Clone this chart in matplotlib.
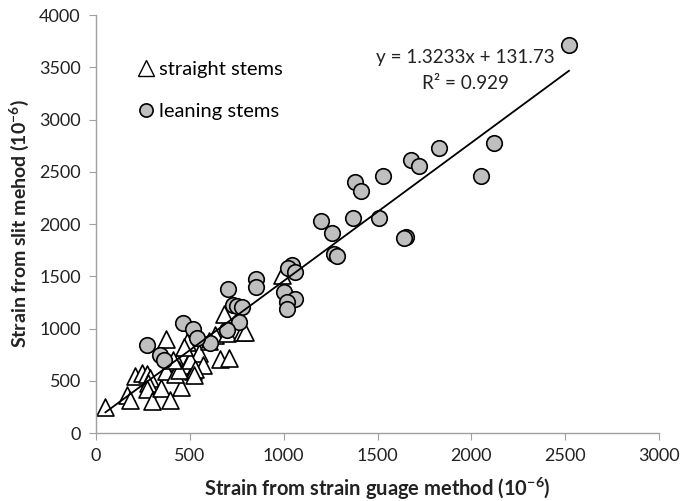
import matplotlib
matplotlib.use("Agg")
import matplotlib.pyplot as plt
from matplotlib.lines import Line2D

plt.rcParams['font.family'] = ['Lato', 'DejaVu Sans']
plt.rcParams['mathtext.fontset'] = 'custom'
plt.rcParams['mathtext.rm'] = 'Lato'
plt.rcParams['mathtext.bf'] = 'Lato:bold'

# Straight stems: (strain gauge, slit method), units of 1e-6
straight_x = [50, 165, 180, 205, 245, 270, 285, 275, 270, 300, 345, 395, 375, 455,
              485, 430, 375, 485, 515, 550, 570, 500, 530, 420, 440, 410, 660, 710,
              680, 635, 700, 780, 795, 990, 600, 520, 470]
straight_y = [245, 365, 315, 545, 575, 565, 530, 480, 425, 310, 430, 320, 900, 440,
              870, 680, 590, 650, 595, 770, 655, 700, 610, 560, 600, 700, 710, 720,
              1135, 935, 960, 970, 965, 1515, 880, 555, 820]

# Leaning stems
leaning_x = [2520, 2120, 2050, 1830, 1680, 1720, 1530, 1380, 1410, 1200, 1370, 1510,
             1260, 1650, 1640, 1270, 1285, 1045, 1025, 1060, 1000, 1060, 1020, 1015,
             855, 850, 705, 730, 750, 780, 760, 700, 605, 465, 515, 540, 270, 340, 360]
leaning_y = [3715, 2775, 2460, 2730, 2615, 2560, 2460, 2400, 2320, 2030, 2060, 2055,
             1910, 1880, 1865, 1715, 1690, 1605, 1580, 1540, 1345, 1285, 1250, 1190,
             1470, 1395, 1375, 1225, 1215, 1210, 1060, 985, 860, 1050, 1000, 910,
             840, 750, 700]

# Linear trend fitted to all stems
slope = 1.3233
intercept = 131.73
r_squared = 0.929

x_ticks = [0, 500, 1000, 1500, 2000, 2500, 3000]
y_ticks = [0, 500, 1000, 1500, 2000, 2500, 3000, 3500, 4000]

fig = plt.figure(figsize=(6.84, 5.01), dpi=100)
ax = fig.add_axes([0.1404, 0.1357, 0.8231, 0.8343])

ax.scatter(straight_x, straight_y, marker='^', s=150, facecolor='white',
           edgecolor='black', linewidth=1.2, zorder=2)
ax.scatter(leaning_x, leaning_y, marker='o', s=125, facecolor='#bfbfbf',
           edgecolor='black', linewidth=1.2, zorder=3)

all_x = straight_x + leaning_x
x0, x1 = min(all_x), max(all_x)
ax.plot([x0, x1], [slope * x0 + intercept, slope * x1 + intercept],
        color='black', linewidth=1.3, zorder=4)

ax.text(1970, 3598, f"y = {slope:.4f}x + {intercept:.2f}", ha='center', va='center',
        fontsize=13.6, color='#222222')
ax.text(1970, 3340, f"R² = {r_squared:.3f}", ha='center',
        va='center', fontsize=13.6, color='#222222')

ax.set_xlim(0, 3000)
ax.set_ylim(0, 4000)
ax.set_xticks(x_ticks)
ax.set_yticks(y_ticks)
ax.tick_params(axis='both', direction='out', length=5, color='#a0a0a0',
               labelsize=13, labelcolor='#222222', pad=6)

for side in ('top', 'right'):
    ax.spines[side].set_visible(False)
for side in ('left', 'bottom'):
    ax.spines[side].set_color('#a0a0a0')
    ax.spines[side].set_linewidth(1.0)

ax.set_xlabel('Strain from strain guage method (10$^{\\mathbf{-6}}$)', fontsize=14.5,
              fontweight='bold', labelpad=8, color='#222222')
ax.set_ylabel('Strain from slit mehod (10$^{\\mathbf{-6}}$)', fontsize=14,
              fontweight='bold', labelpad=6, color='#222222')

handles = [
    Line2D([], [], marker='^', linestyle='none', markersize=12,
           markerfacecolor='white', markeredgecolor='black', markeredgewidth=1.0),
    Line2D([], [], marker='o', linestyle='none', markersize=9.5,
           markerfacecolor='#bfbfbf', markeredgecolor='black', markeredgewidth=1.2),
]
ax.legend(handles, ['straight stems', 'leaning stems'], loc='upper left',
          bbox_to_anchor=(0.047, 0.915), frameon=False, fontsize=14.5,
          handletextpad=0.0, handlelength=1.3, labelspacing=1.25, borderpad=0)

fig.savefig('out.png', dpi=100)
